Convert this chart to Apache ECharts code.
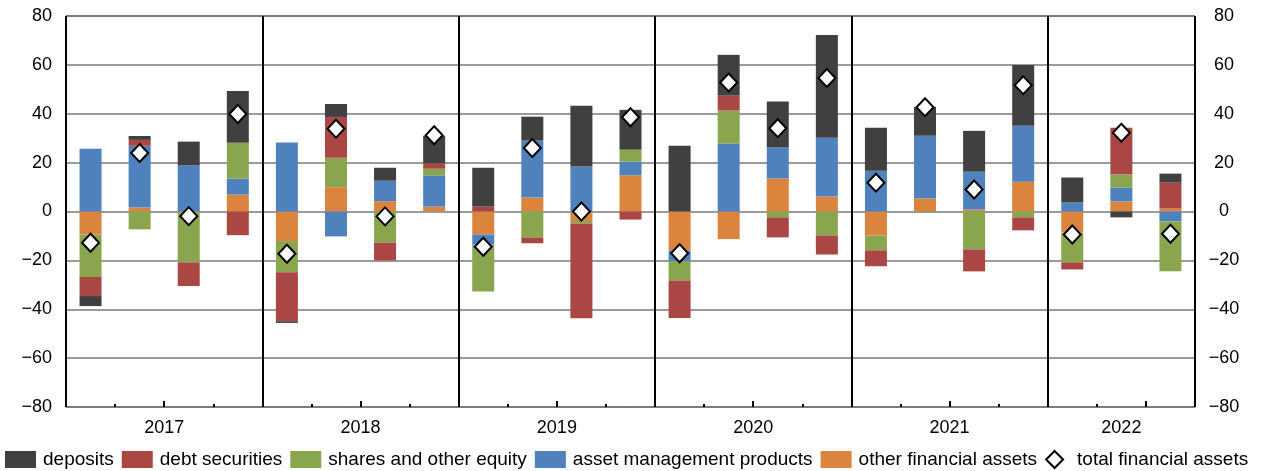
<!DOCTYPE html>
<html>
<head>
<meta charset="utf-8">
<script src="https://cdn.jsdelivr.net/npm/echarts@6/dist/echarts.min.js"></script>
<style>
  html, body { margin: 0; padding: 0; background: #fff; }
  #main { width: 1266px; height: 471px; }
</style>
</head>
<body>
<div id="main"></div>
<script>
// quarters 2017Q1 .. 2022Q3
const quarters = [
  '2017Q1', '2017Q2', '2017Q3', '2017Q4',
  '2018Q1', '2018Q2', '2018Q3', '2018Q4',
  '2019Q1', '2019Q2', '2019Q3', '2019Q4',
  '2020Q1', '2020Q2', '2020Q3', '2020Q4',
  '2021Q1', '2021Q2', '2021Q3', '2021Q4',
  '2022Q1', '2022Q2', '2022Q3'
]
const years = ['2017', '2018', '2019', '2020', '2021', '2022']
const yearLabelPos = [2, 6, 10, 14, 18, 21.5]
const tallTicks = [2, 6, 10, 14, 18, 22]
const shortTicks = [1, 3, 5, 7, 9, 11, 13, 15, 17, 19, 21]

const deposits = [
  -4.1, 1.6, 9.7, 21.2,
  -0.7, 5.3, 5.3, 11.3,
  15.9, 9.8, 24.9, 16.3,
  26.9, 16.7, 18.8, 42.0,
  17.6, 11.8, 16.7, 24.9,
  10.2, -2.4, 3.7
]
const debtSecurities = [
  -7.8, 2.4, -9.7, -9.7,
  -20.0, 16.7, -7.3, 2.2,
  2.0, -2.4, -38.8, -3.3,
  -15.4, 6.1, -8.2, -7.8,
  -6.5, 0, -9.0, -5.3,
  -2.9, 19.2, 10.6
]
const sharesEquity = [
  -17.4, -7.3, -20.3, 14.7,
  -12.8, 12.1, -12.7, 2.7,
  -19.2, -10.6, -1.0, 4.9,
  -7.8, 13.5, -2.4, -9.8,
  -6.1, -0.4, -15.5, -2.4,
  -12.2, 5.3, -20.4
]
const assetMgmt = [
  25.7, 25.3, 18.9, 6.5,
  28.2, -10.2, 8.4, 12.8,
  -4.1, 23.3, 18.4, 5.6,
  -4.5, 27.8, 12.7, 24.1,
  16.7, 25.7, 15.5, 22.9,
  3.7, 5.7, -4.1
]
const otherAssets = [
  -9.4, 1.6, -0.5, 6.9,
  -12.1, 9.9, 4.2, 2.0,
  -9.4, 5.7, -3.9, 14.8,
  -15.9, -11.3, 13.5, 6.1,
  -9.8, 5.3, 0.8, 12.2,
  -8.6, 4.1, 1.2
]
const totalAssets = [
  -12.8, 23.9, -1.9, 39.9,
  -17.3, 33.9, -2.0, 31.2,
  -14.4, 26.0, 0.0, 38.6,
  -17.1, 52.8, 34.1, 54.6,
  11.8, 42.7, 9.0, 51.7,
  -9.4, 32.2, -9.1
]

const font = '"Liberation Sans", Arial, sans-serif'
const minus = function(v) { return String(v).replace('-', '\u2212') }

function barSeries(name, data, color) {
  return {
    name: name,
    type: 'bar',
    stack: 'flows',
    barWidth: 22,
    data: data,
    itemStyle: { color: color },
    emphasis: { disabled: true }
  }
}

const chart = echarts.init(document.getElementById('main'), null, { renderer: 'canvas' })
const n = quarters.length

chart.setOption({
  animation: false,
  backgroundColor: '#fff',
  textStyle: { fontFamily: font },
  grid: {
    left: 66, right: 71, top: 16, bottom: 64,
    show: true, borderColor: '#000', borderWidth: 1, backgroundColor: 'transparent'
  },
  legend: {
    left: 5, top: 450, width: 1300, padding: 0,
    itemWidth: 31, itemHeight: 17, itemGap: 8,
    symbolKeepAspect: true,
    textStyle: { fontFamily: font, fontSize: 19, color: '#000', padding: [0, 0, 0, 2] },
    data: [
      { name: 'deposits', icon: 'rect' },
      { name: 'debt securities', icon: 'rect' },
      { name: 'shares and other equity', icon: 'rect' },
      { name: 'asset management products', icon: 'rect' },
      { name: 'other financial assets', icon: 'rect' },
      { name: 'total financial assets', icon: 'path://M0,-1L1,0L0,1L-1,0Z' }
    ]
  },
  xAxis: [
    {
      type: 'category', data: quarters, boundaryGap: true,
      axisLine: { show: false }, axisTick: { show: false }, axisLabel: { show: false },
      splitLine: { show: false }
    },
    {
      // year separators
      type: 'value', min: 0, max: n, interval: 4,
      axisLine: { show: false }, axisTick: { show: false }, axisLabel: { show: false },
      splitLine: { show: true, lineStyle: { color: '#000', width: 2 } }
    },
    {
      // year labels and middle ticks
      type: 'value', min: 0, max: n, position: 'bottom',
      axisLine: { show: false },
      axisTick: { show: true, inside: true, length: 6, customValues: tallTicks, lineStyle: { color: '#000', width: 2 } },
      axisLabel: {
        show: true, customValues: yearLabelPos, margin: 12,
        fontFamily: font, fontSize: 18, color: '#000',
        formatter: function(v) { return years[Math.floor(v / 4)] }
      },
      splitLine: { show: false }
    },
    {
      // quarter ticks
      type: 'value', min: 0, max: n, position: 'bottom',
      axisLine: { show: false },
      axisTick: { show: true, inside: true, length: 3, customValues: shortTicks, lineStyle: { color: '#000', width: 2 } },
      axisLabel: { show: false },
      splitLine: { show: false }
    }
  ],
  yAxis: [
    {
      type: 'value', min: -80, max: 80, interval: 20, position: 'left',
      axisLine: { show: false }, axisTick: { show: false },
      axisLabel: { margin: 14, fontFamily: font, fontSize: 18, color: '#000', formatter: minus },
      splitLine: { show: true, lineStyle: { color: '#7a7a7a', width: 1.5 } }
    },
    {
      type: 'value', min: -80, max: 80, interval: 20, position: 'right',
      axisLine: { show: false }, axisTick: { show: false },
      axisLabel: { margin: 29, align: 'center', fontFamily: font, fontSize: 18, color: '#000', formatter: minus },
      splitLine: { show: false }
    }
  ],
  series: [
    barSeries('other financial assets', otherAssets, '#DB843D'),
    barSeries('asset management products', assetMgmt, '#4F81BD'),
    barSeries('shares and other equity', sharesEquity, '#89A54E'),
    barSeries('debt securities', debtSecurities, '#AA4643'),
    barSeries('deposits', deposits, '#404040'),
    {
      name: 'total financial assets',
      type: 'scatter',
      symbol: 'diamond',
      symbolSize: [17, 18],
      data: totalAssets,
      z: 5,
      itemStyle: { color: '#fff', borderColor: '#000', borderWidth: 2, opacity: 1 },
      emphasis: { disabled: true }
    }
  ]
})
</script>
</body>
</html>
